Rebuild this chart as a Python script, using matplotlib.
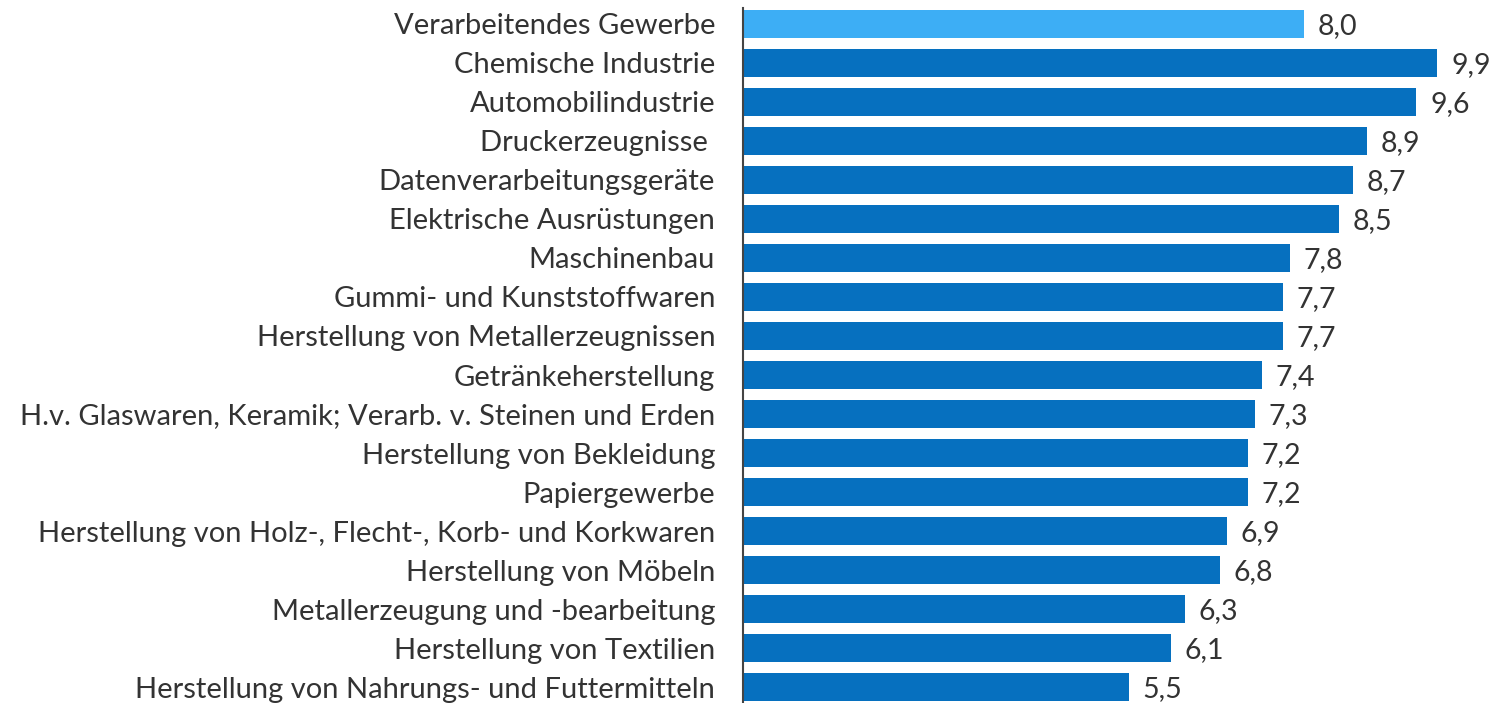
import matplotlib
matplotlib.use('Agg')
from matplotlib import pyplot as plt

branchen = [
    'Verarbeitendes Gewerbe',
    'Chemische Industrie',
    'Automobilindustrie',
    'Druckerzeugnisse ',
    'Datenverarbeitungsgeräte',
    'Elektrische Ausrüstungen',
    'Maschinenbau',
    'Gummi- und Kunststoffwaren',
    'Herstellung von Metallerzeugnissen',
    'Getränkeherstellung',
    'H.v. Glaswaren, Keramik; Verarb. v. Steinen und Erden',
    'Herstellung von Bekleidung',
    'Papiergewerbe',
    'Herstellung von Holz-, Flecht-, Korb- und Korkwaren',
    'Herstellung von Möbeln',
    'Metallerzeugung und -bearbeitung',
    'Herstellung von Textilien',
    'Herstellung von Nahrungs- und Futtermitteln',
]
werte = [8.0, 9.9, 9.6, 8.9, 8.7, 8.5, 7.8, 7.7, 7.7, 7.4, 7.3, 7.2, 7.2, 6.9, 6.8, 6.3, 6.1, 5.5]

farben = ['#3DAEF5'] + ['#0670BF'] * (len(werte) - 1)

plt.rcParams['font.family'] = ['Lato', 'DejaVu Sans']

fig = plt.figure(figsize=(14.98, 7.03), dpi=100)
ax = fig.add_axes([743 / 1498, 0, 1 - 743 / 1498, 695 / 703])

y = list(range(len(werte)))
ax.barh(y, werte, height=0.74, color=farben)

for i, v in enumerate(werte):
    ax.text(v + 0.2, i + 0.05, f'{v:.1f}'.replace('.', ','), va='center', ha='left',
            fontsize=20.5, color='#333333')

ax.set_yticks(y)
ax.set_yticklabels(branchen, fontsize=21, color='#333333')
ax.tick_params(axis='y', length=0, pad=20)
ax.set_xticks([])
ax.set_xlim(0, 10.77)
ax.set_ylim(17.41, -0.41)

for s in ['top', 'right', 'bottom']:
    ax.spines[s].set_visible(False)
ax.spines['left'].set_color('#444444')
ax.spines['left'].set_linewidth(1.5)

fig.savefig('out.png', dpi=100)
